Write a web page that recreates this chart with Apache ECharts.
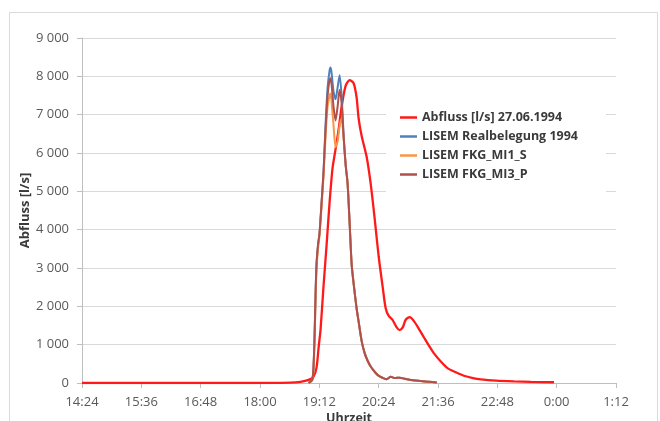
<!DOCTYPE html>
<html>
<head>
<meta charset="utf-8">
<script src="https://cdn.jsdelivr.net/npm/echarts@6/dist/echarts.min.js"></script>
<style>
html,body{margin:0;padding:0;background:#fff;}
#c{width:660px;height:421px;}
</style>
</head>
<body>
<div id="c"></div>
<script>
// Time in minutes after midnight (values past 1440 belong to the next day)
const seriesNames = ['Abfluss [l/s] 27.06.1994', 'LISEM Realbelegung 1994', 'LISEM FKG_MI1_S', 'LISEM FKG_MI3_P'];

const obsTime = [864, 1068, 1117, 1129, 1139, 1145, 1148.6, 1151, 1153.5, 1157, 1160.8, 1164.4, 1168, 1171.7, 1175.3, 1179, 1183.9, 1188.7, 1193.6, 1197.2, 1199.7, 1203.3, 1209.4, 1214.3, 1219.1, 1224, 1228.9, 1232.5, 1236.2, 1241, 1245.9, 1249.5, 1253.2, 1256.8, 1261.7, 1266.6, 1272.6, 1278.7, 1284.8, 1290.9, 1299.4, 1307.9, 1317.6, 1327.4, 1338.3, 1348, 1366.3, 1388.2, 1408.9, 1436.8];
const obsFlow = [0, 0, 10, 30, 80, 165, 400, 900, 1400, 2500, 3600, 4700, 5600, 6100, 6600, 7200, 7750, 7900, 7820, 7450, 6900, 6450, 5900, 5200, 4300, 3300, 2500, 1950, 1750, 1640, 1450, 1380, 1450, 1650, 1720, 1620, 1420, 1200, 980, 780, 560, 380, 280, 190, 130, 95, 60, 40, 30, 20];

const modTime = [1139, 1142.5, 1143.7, 1144.9, 1146.2, 1147.4, 1148.6, 1150.4, 1152.2, 1154.7, 1157.1, 1159.5, 1162, 1164.4, 1165.6, 1166.8, 1169.3, 1171.7, 1174.1, 1176.6, 1179, 1181.4, 1183.9, 1186.3, 1188.7, 1191.2, 1193.6, 1197.2, 1199.7, 1203.3, 1207, 1210.6, 1214.3, 1220.4, 1225.2, 1233.7, 1238.6, 1243.4, 1249.5, 1255.6, 1262.9, 1275.1, 1284.8, 1294.5];
const realFlow = [0, 60, 100, 400, 1200, 2300, 3100, 3600, 3900, 4700, 5500, 6700, 7700, 8150, 8230, 8100, 7600, 7400, 7700, 8030, 7500, 6500, 5700, 5200, 4200, 3100, 2600, 1950, 1600, 1100, 780, 580, 430, 260, 170, 100, 160, 130, 140, 110, 80, 50, 35, 15];
const mi1Flow  = [0, 50, 90, 350, 1100, 2200, 3000, 3500, 3850, 4600, 5400, 6400, 7200, 7500, 7550, 7350, 6700, 6150, 6300, 6700, 6900, 6400, 5700, 5200, 4200, 3100, 2600, 1950, 1600, 1100, 780, 580, 430, 260, 170, 100, 160, 130, 140, 110, 80, 50, 35, 15];
const mi3Flow  = [0, 60, 100, 400, 1200, 2300, 3100, 3600, 3900, 4700, 5500, 6600, 7500, 7900, 7950, 7800, 7200, 6850, 7200, 7650, 7300, 6450, 5700, 5200, 4200, 3100, 2600, 1950, 1600, 1100, 780, 580, 430, 260, 170, 100, 160, 130, 140, 110, 80, 50, 35, 15];

const yTicks = [0, 1000, 2000, 3000, 4000, 5000, 6000, 7000, 8000, 9000];
const xTickStart = 864, xTickEnd = 1512, xTickStep = 72;

const colors = ['#ff1a1a', '#4f81bd', '#f79646', '#b0504c'];

function pairs(t, v) { return t.map((x, i) => [x, v[i]]); }
function clock(m) {
  const h = Math.floor(m / 60) % 24, mm = Math.round(m % 60);
  return h + ':' + (mm < 10 ? '0' : '') + mm;
}
function thousands(v) {
  return String(v).replace(/\B(?=(\d{3})+(?!\d))/g, ' ');
}

const chart = echarts.init(document.getElementById('c'), null, {renderer: 'canvas'});
const FONT = '"Open Sans", "Liberation Sans", sans-serif';
const series = [
  pairs(obsTime, obsFlow), pairs(modTime, realFlow), pairs(modTime, mi1Flow), pairs(modTime, mi3Flow)
].map((d, i) => ({
  name: seriesNames[i],
  type: 'line',
  data: d,
  symbol: 'none',
  smooth: 0.25,
  z: 2 + i,
  lineStyle: {color: colors[i], width: i === 0 ? 2.3 : 2},
  itemStyle: {color: colors[i]}
}));

chart.setOption({
  animation: false,
  backgroundColor: '#fff',
  graphic: [{
    type: 'rect', shape: {x: 9.5, y: 12.5, width: 648, height: 420},
    style: {fill: 'none', stroke: '#d9d9d9', lineWidth: 1}, z: -10
  }],
  grid: {left: 82, right: 44, top: 38, bottom: 38, outerBoundsMode: 'none', containLabel: false},
  legend: {
    orient: 'vertical', left: 386, top: 99,
    padding: [12, 28, 17, 14], itemGap: 6,
    itemWidth: 17, itemHeight: 2.5, icon: 'rect',
    backgroundColor: '#fff',
    data: seriesNames,
    textStyle: {fontFamily: FONT, fontSize: 12.5, fontWeight: 'bold', color: '#3a3a3a'}
  },
  xAxis: {
    type: 'value', min: xTickStart, max: xTickEnd, interval: xTickStep,
    name: 'Uhrzeit', nameLocation: 'middle', nameGap: 29, nameMoveOverlap: false,
    nameTextStyle: {fontFamily: FONT, fontSize: 12.5, fontWeight: 'bold', color: '#3a3a3a'},
    axisLine: {show: true, lineStyle: {color: '#bfbfbf'}},
    axisTick: {show: true, length: 5, lineStyle: {color: '#bfbfbf'}},
    splitLine: {show: false},
    axisLabel: {formatter: clock, fontFamily: FONT, fontSize: 13, color: '#595959', margin: 13}
  },
  yAxis: {
    type: 'value', min: yTicks[0], max: yTicks[yTicks.length - 1], interval: yTicks[1] - yTicks[0],
    name: 'Abfluss [l/s]', nameLocation: 'middle', nameGap: 50, nameRotate: 90, nameMoveOverlap: false,
    nameTextStyle: {fontFamily: FONT, fontSize: 13, fontWeight: 'bold', color: '#3a3a3a'},
    axisLine: {show: true, lineStyle: {color: '#bfbfbf'}},
    axisTick: {show: true, length: 5, lineStyle: {color: '#bfbfbf'}},
    splitLine: {show: true, lineStyle: {color: '#d9d9d9', width: 1}},
    axisLabel: {formatter: thousands, fontFamily: FONT, fontSize: 13, color: '#595959', margin: 13}
  },
  series: series
});
</script>
</body>
</html>
